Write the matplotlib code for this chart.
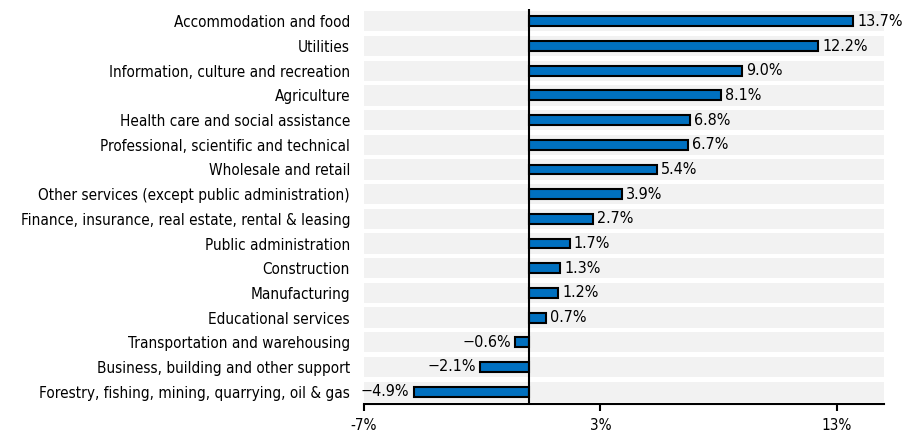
import matplotlib.pyplot as plt
from matplotlib import font_manager

names = {f.name for f in font_manager.fontManager.ttflist}
if 'Liberation Sans Narrow' in names:
    plt.rcParams['font.family'] = ['Liberation Sans Narrow', 'DejaVu Sans']
else:
    plt.rcParams['font.family'] = ['DejaVu Sans']
    plt.rcParams['font.stretch'] = 'condensed'

categories = [
    'Accommodation and food',
    'Utilities',
    'Information, culture and recreation',
    'Agriculture',
    'Health care and social assistance',
    'Professional, scientific and technical',
    'Wholesale and retail',
    'Other services (except public administration)',
    'Finance, insurance, real estate, rental & leasing',
    'Public administration',
    'Construction',
    'Manufacturing',
    'Educational services',
    'Transportation and warehousing',
    'Business, building and other support',
    'Forestry, fishing, mining, quarrying, oil & gas',
]
values = [13.7, 12.2, 9.0, 8.1, 6.8, 6.7, 5.4, 3.9, 2.7, 1.7, 1.3, 1.2, 0.7, -0.6, -2.1, -4.9]
xticks = [-7, 3, 13]

fig = plt.figure(figsize=(9.07, 4.36), dpi=100)
ax = fig.add_axes([364 / 907, 32 / 436, 520 / 907, 395 / 436])

n = len(categories)
ypos = list(range(n))[::-1]

# light grey band behind every row
ax.barh(ypos, [22] * n, left=-7, height=0.82, color='#F2F2F2', zorder=0)
ax.barh(ypos, values, height=0.4, color='#0070C0', edgecolor='black',
        linewidth=1.5, zorder=3)

for y, v in zip(ypos, values):
    if v >= 0:
        ax.annotate(f'{v:.1f}%', (v, y), xytext=(3, 0), textcoords='offset points',
                    ha='left', va='center', fontsize=11.5)
    else:
        ax.annotate(f'\u2212{abs(v):.1f}%', (v, y), xytext=(-3, 0), textcoords='offset points',
                    ha='right', va='center', fontsize=11.5)

ax.axvline(0, color='black', linewidth=1.5, zorder=4)

ax.set_xlim(-7, 15)
ax.set_ylim(-0.5, n - 0.5)
ax.set_xticks(xticks)
ax.set_xticklabels([f'{t}%' for t in xticks], fontsize=11)
ax.set_yticks(ypos)
ax.set_yticklabels(categories, fontsize=11)
ax.tick_params(axis='y', length=0, pad=10)
ax.tick_params(axis='x', length=5, width=1.5, pad=5)

for s in ['top', 'right', 'left']:
    ax.spines[s].set_visible(False)
ax.spines['bottom'].set_linewidth(1.5)

fig.savefig('out.png', dpi=100)
